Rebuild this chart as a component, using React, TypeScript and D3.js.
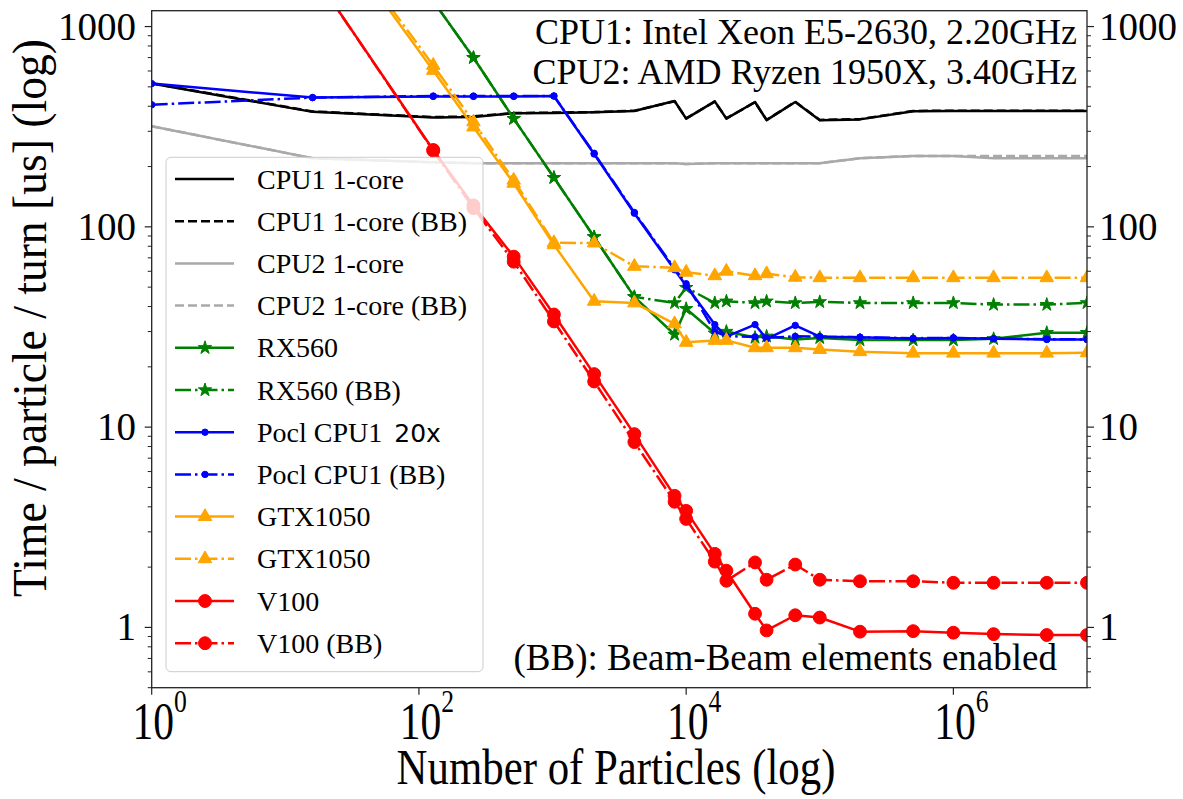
import React from 'react';
import * as d3 from 'd3';

// particle counts (x) shared by every series
const particles = [1, 16, 128, 256, 512, 1024, 2048, 4096, 8192, 10000, 16384, 20000, 32768, 40000, 65536, 100000, 200000, 500000, 1000000, 2000000, 5000000, 10000000];

// time / particle / turn [us] (null = no point)
const cpu1 = [519, 375, 352, 354, 369, 370, 373, 379, 425, 347, 423, 347, 420, 341, 420, 341, 344, 378, 379, 379, 379, 379];
const cpu1BB = [521, 377, 353, 356, 370, 372, 374, 380, 424, 348, 422, 348, 419, 342, 421, 342, 345, 379, 380, 380, 380, 380];
const cpu2 = [318, 220, 210, 208, 208, 208, 208, 208, 208, 206, 208, 208, 208, 208, 208, 208, 220, 226, 226, 220, 220, 220];
const cpu2BB = [318, 220, 210, 208, 208, 208, 208, 208, 208, 206, 208, 208, 208, 208, 208, 208, 220, 226, 226, 226, 226, 226];
const rx560 = [null, 9000, 1340, 699, 347, 176, 89, 44.7, 29, 39, 29.4, 30, 28, 28.4, 27.4, 27.9, 27.2, 27.2, 27.2, 27.6, 29.6, 29.6];
const rx560BB = [null, 9000, 1340, 699, 347, 176, 89, 44.7, 41.7, 49.7, 41.7, 42.5, 41.7, 42.5, 41.7, 42.2, 41.7, 41.7, 41.7, 40.9, 40.9, 41.7];
const pocl = [519, 442, 448, 448, 448, 450, 231, 117, 61, 50.8, 32.5, 28.3, 32.5, 27.6, 32.2, 28.3, 28.1, 27.6, 27.9, 27.6, 27.4, 27.4];
const poclBB = [407, 442, 450, 450, 450, 450, 233, 118, 62, 52, 30, 28.5, 28.2, 27.9, 28.4, 28.3, 28.1, 27.8, 27.9, 27.7, 27.5, 27.4];
const gtx1050 = [null, 4060, 604, 315, 165, 81.4, 42.5, 41.7, 32.8, 26.5, 27.1, 27.1, 24.9, 24.9, 24.9, 24.4, 23.8, 23.4, 23.4, 23.4, 23.4, 23.5];
const gtx1050BB = [null, 4200, 640, 334, 171, 83.3, 83, 63.5, 62.5, 59.3, 57, 60, 57, 58.3, 56, 55.7, 55.7, 55.7, 55.7, 55.7, 55.7, 55.7];
const v100 = [null, 1860, 242, 128, 71, 36.5, 18.4, 9.23, 4.54, 3.82, 2.33, 1.92, 1.17, 0.966, 1.15, 1.12, 0.952, 0.958, 0.941, 0.926, 0.916, 0.916];
const v100BB = [null, 1860, 240, 124, 67, 33.7, 16.9, 8.42, 4.24, 3.48, 2.13, 1.71, 2.11, 1.73, 2.06, 1.73, 1.7, 1.7, 1.67, 1.67, 1.67, 1.67];

const xTicks = [0, 2, 4, 6];
const yTicks = [1, 10, 100, 1000];
const cpuNotes = ['CPU1: Intel Xeon E5-2630, 2.20GHz', 'CPU2: AMD Ryzen 1950X, 3.40GHz'];

const series = [
  { label: 'CPU1 1-core', values: cpu1, color: '#000000', dash: null, marker: null },
  { label: 'CPU1 1-core (BB)', values: cpu1BB, color: '#000000', dash: 'dashed', marker: null },
  { label: 'CPU2 1-core', values: cpu2, color: '#a9a9a9', dash: null, marker: null },
  { label: 'CPU2 1-core (BB)', values: cpu2BB, color: '#a9a9a9', dash: 'dashed', marker: null },
  { label: 'RX560', values: rx560, color: '#008000', dash: null, marker: 'star' },
  { label: 'RX560 (BB)', values: rx560BB, color: '#008000', dash: 'dashdot', marker: 'star' },
  { label: 'Pocl CPU1', extra: '20x', values: pocl, color: '#0000ff', dash: null, marker: 'dot' },
  { label: 'Pocl CPU1 (BB)', values: poclBB, color: '#0000ff', dash: 'dashdot', marker: 'dot' },
  { label: 'GTX1050', values: gtx1050, color: '#ffa500', dash: null, marker: 'triangle' },
  { label: 'GTX1050', values: gtx1050BB, color: '#ffa500', dash: 'dashdot', marker: 'triangle' },
  { label: 'V100', values: v100, color: '#ff0000', dash: null, marker: 'circle' },
  { label: 'V100 (BB)', values: v100BB, color: '#ff0000', dash: 'dashdot', marker: 'circle' },
];

const W = 1183;
const H = 799;
const left = 151.7, right = 1087, top = 10.7, bottom = 687.7;
const serif = '"Liberation Serif", "Times New Roman", serif';
const LW = 2.5;
const dashes = { dashed: '9 4', dashdot: '16 4 2.5 4' };

const x = d3.scaleLog().domain([1, 1e7]).range([left, right]);
const y = d3.scaleLog().domain([0.5, 1200]).range([bottom, top]);

const markerPath = (m) => {
  if (m === 'star') return d3.symbol(d3.symbolStar, 55)();
  if (m === 'triangle') return d3.symbol(d3.symbolTriangle, 80)();
  if (m === 'circle') return d3.symbol(d3.symbolCircle, 130)();
  if (m === 'dot') return d3.symbol(d3.symbolCircle, 32)();
  return null;
};

const Marker = ({ m, color, cx, cy }) => {
  const p = markerPath(m);
  if (!p) return null;
  return <path d={p} transform={`translate(${cx},${cy})`} fill={color} stroke={color} strokeWidth={1} />;
};

export default function App() {
  const line = d3.line()
    .defined((d) => d[1] != null)
    .x((d) => x(d[0]))
    .y((d) => y(d[1]));

  const minorTicks = y.ticks().filter((t) => !yTicks.includes(t));

  const legX = 166, legY = 157.3, legW = 317, legH = 514.4;
  const rowY = (i) => 179 + i * 42.2;

  return (
    <svg width={W} height={H} style={{ position: 'absolute', left: 0, top: 0, background: '#fff' }} fontFamily={serif}>
      <defs>
        <clipPath id="plot">
          <rect x={left} y={top} width={right - left} height={bottom - top} />
        </clipPath>
      </defs>
      <rect width={W} height={H} fill="#fff" />

      <g clipPath="url(#plot)">
        {series.map((s, i) => {
          const pts = particles.map((p, k) => [p, s.values[k]]);
          return (
            <g key={i}>
              <path d={line(pts)} fill="none" stroke={s.color} strokeWidth={LW}
                strokeDasharray={s.dash ? dashes[s.dash] : undefined} strokeLinejoin="round" />
              {s.marker && pts.filter((d) => d[1] != null).map((d, k) => (
                <Marker key={k} m={s.marker} color={s.color} cx={x(d[0])} cy={y(d[1])} />
              ))}
            </g>
          );
        })}
      </g>

      {/* frame */}
      <rect x={left} y={top} width={right - left} height={bottom - top} fill="none" stroke="#222" strokeWidth={1.3} />

      {/* y ticks, both sides */}
      {yTicks.map((t) => (
        <g key={t}>
          <line x1={left - 7} x2={left} y1={y(t)} y2={y(t)} stroke="#222" strokeWidth={1.2} />
          <line x1={right} x2={right + 7} y1={y(t)} y2={y(t)} stroke="#222" strokeWidth={1.2} />
          <text x={136} y={y(t) + 13} textAnchor="end" fontSize={39}>{t}</text>
          <text x={1099} y={y(t) + 13} textAnchor="start" fontSize={39}>{t}</text>
        </g>
      ))}
      {minorTicks.map((t, i) => (
        <g key={i}>
          <line x1={left - 4} x2={left} y1={y(t)} y2={y(t)} stroke="#222" strokeWidth={1} />
          <line x1={right} x2={right + 4} y1={y(t)} y2={y(t)} stroke="#222" strokeWidth={1} />
        </g>
      ))}

      {/* x ticks */}
      {xTicks.map((e) => (
        <g key={e}>
          <line x1={x(10 ** e)} x2={x(10 ** e)} y1={bottom} y2={bottom + 7} stroke="#222" strokeWidth={1.2} />
          <text transform={`translate(${x(10 ** e) + 8},739) scale(0.8,1)`} textAnchor="middle" fontSize={52}>
            10<tspan fontSize={32} dy={-27}>{e}</tspan>
          </text>
        </g>
      ))}

      <text transform="translate(616,784) scale(0.84,1)" textAnchor="middle" fontSize={51}>Number of Particles (log)</text>
      <text transform="translate(46,318) rotate(-90) scale(0.95,1)" textAnchor="middle" fontSize={48}>
        Time / particle / turn [us] (log)
      </text>

      {cpuNotes.map((t, i) => (
        <text key={i} x={1077} y={43.5 + i * 40} textAnchor="end" fontSize={36}>{t}</text>
      ))}
      <text x={1057} y={670} textAnchor="end" fontSize={37}>(BB): Beam-Beam elements enabled</text>

      {/* legend */}
      <rect x={legX} y={legY} width={legW} height={legH} rx={5} fill="#fff" fillOpacity={0.8} stroke="#cccccc" strokeWidth={1} />
      {series.map((s, i) => (
        <g key={i}>
          <line x1={175} x2={234} y1={rowY(i)} y2={rowY(i)} stroke={s.color} strokeWidth={LW}
            strokeDasharray={s.dash ? dashes[s.dash] : undefined} />
          {s.marker && <Marker m={s.marker} color={s.color} cx={205} cy={rowY(i)} />}
          <text x={257} y={rowY(i) + 9.5} fontSize={28}>
            {s.label}
            {s.extra && <tspan fontFamily='"DejaVu Sans", sans-serif' fontSize={25} dx={12}>{s.extra}</tspan>}
          </text>
        </g>
      ))}
    </svg>
  );
}
